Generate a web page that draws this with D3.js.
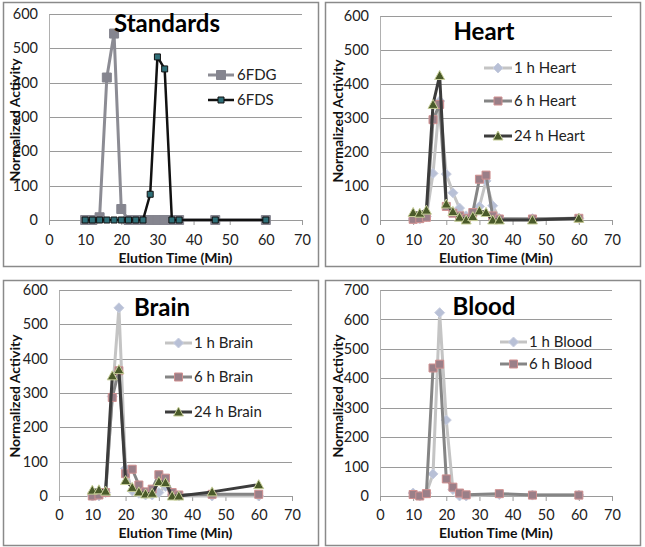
<!DOCTYPE html>
<html><head><meta charset="utf-8">
<script src="https://cdn.jsdelivr.net/npm/d3@7"></script>
<style>
body{margin:0;background:#fff;}
svg{display:block;font-family:Lato, "Open Sans", sans-serif;}
</style></head>
<body><svg id="c" width="645" height="547"></svg>
<script>
// ---------- DATA ----------
const xTicks = [0,10,20,30,40,50,60,70];
const stdTimes   = [10,12,14,16,18,20,22,24,26,28,30,32,34,36,46,60];
const fdg        = [0,0,8,415,543,32,0,0,0,0,0,0,0,0,0,0];
const fds        = [0,0,0,0,0,0,0,0,0,75,475,440,0,0,0,0];

const heartTimes = [10,12,14,16,18,20,22,24,26,28,30,32,34,36,46,60];
const heart1h    = [3,3,10,137,350,135,80,35,12,18,40,115,42,5,4,5];
const heart6h    = [2,4,8,295,340,40,20,12,5,22,120,132,12,3,3,5];
const heart24h   = [22,20,29,340,425,47,25,8,0,10,27,22,0,0,0,5];

const brainTimes = [10,12,14,16,18,20,22,24,26,28,30,32,34,36,46,60];
const brain1h    = [0,0,10,290,548,80,15,8,3,3,10,28,3,0,0,0];
const brain6h    = [0,3,10,287,365,65,78,32,12,20,62,52,10,3,5,5];
const brain24h   = [17,18,14,350,368,45,25,12,6,8,42,39,0,0,12,33];

const bloodTimes = [10,12,14,16,18,20,22,24,26,36,46,60];
const blood1h    = [10,0,10,75,623,258,22,0,0,5,3,3];
const blood6h    = [5,0,8,435,448,58,30,10,4,8,3,3];

const yTicksStd = [0,100,200,300,400,500,600];
const yTicksBlood = [0,100,200,300,400,500,600,700];

// ---------- STYLES ----------
const S = {
  fdg:  {line:"#8c8c94", w:3,   shape:"square", size:9, fill:"#85858f", stroke:"#85858f"},
  fds:  {line:"#111",    w:2.5, shape:"square", size:6, fill:"#2f6f78", stroke:"#111"},
  h1:   {line:"#c4c4c4", w:3,   shape:"diamond",size:10, fill:"#b8c0d6", stroke:"#c8cee0"},
  h6:   {line:"#858585", w:3,   shape:"square", size:8, fill:"#9a7f88", stroke:"#d09090"},
  h24:  {line:"#3c3c3c", w:3,   shape:"triangle",size:10, fill:"#4a5a2a", stroke:"#c8cf9a"}
};

const panels = [
  {title:"Standards", box:[3,2,318,266], x0:49, x70:302, y0:220, yTop:14, yTicks:yTicksStd,
   titlePos:[167,24], yTitleX:15, xLabY:245, xTitleY:258,
   series:[{name:"6FDG",t:stdTimes,v:fdg,s:S.fdg},{name:"6FDS",t:stdTimes,v:fds,s:S.fds}],
   legend:{x1:208,x2:234,tx:237,ys:[75,100]}},
  {title:"Heart", box:[325,2,640,266], x0:380, x70:612, y0:220, yTop:16, yTicks:yTicksStd,
   titlePos:[484,32], yTitleX:338, xLabY:245, xTitleY:258,
   series:[{name:"1 h Heart",t:heartTimes,v:heart1h,s:S.h1},{name:"6 h Heart",t:heartTimes,v:heart6h,s:S.h6},{name:"24 h Heart",t:heartTimes,v:heart24h,s:S.h24}],
   legend:{x1:484,x2:512,tx:514,ys:[68,101,136]}},
  {title:"Brain", box:[3,280,318,545], x0:59, x70:292, y0:496, yTop:290, yTicks:yTicksStd,
   titlePos:[162,308], yTitleX:15, xLabY:520, xTitleY:533,
   series:[{name:"1 h Brain",t:brainTimes,v:brain1h,s:S.h1},{name:"6 h Brain",t:brainTimes,v:brain6h,s:S.h6},{name:"24 h Brain",t:brainTimes,v:brain24h,s:S.h24}],
   legend:{x1:165,x2:192,tx:194,ys:[343,377,412]}},
  {title:"Blood", box:[325,280,640,545], x0:380, x70:612, y0:496, yTop:290, yTicks:yTicksBlood,
   titlePos:[484,307], yTitleX:338, xLabY:520, xTitleY:533,
   series:[{name:"1 h Blood",t:bloodTimes,v:blood1h,s:S.h1},{name:"6 h Blood",t:bloodTimes,v:blood6h,s:S.h6}],
   legend:{x1:500,x2:527,tx:529,ys:[342,364]}}
];

const svg = d3.select("#c");

function markerPath(shape,size){
  const h=size/2;
  if(shape==="square") return `M${-h},${-h}H${h}V${h}H${-h}Z`;
  if(shape==="diamond") return `M0,${-h}L${h},0L0,${h}L${-h},0Z`;
  return `M0,${-h}L${h},${h*0.8}L${-h},${h*0.8}Z`;
}

panels.forEach(p=>{
  const g = svg.append("g");
  const [bx1,by1,bx2,by2]=p.box;
  g.append("rect").attr("x",bx1+0.5).attr("y",by1+0.5).attr("width",bx2-bx1).attr("height",by2-by1)
    .attr("fill","#fff").attr("stroke","#8a8a8a").attr("stroke-width",1.5);

  const x = d3.scaleLinear().domain([0,70]).range([p.x0,p.x70]);
  const ymax = p.yTicks[p.yTicks.length-1];
  const y = d3.scaleLinear().domain([0,ymax]).range([p.y0,p.yTop]);

  // gridlines
  g.append("g").selectAll("line").data(p.yTicks.filter(d=>d>0)).join("line")
    .attr("x1",p.x0).attr("x2",p.x70).attr("y1",d=>Math.round(y(d))+0.5).attr("y2",d=>Math.round(y(d))+0.5)
    .attr("stroke","#9a9a9a").attr("stroke-width",1);

  // y axis
  const ya = g.append("g").attr("transform",`translate(${p.x0},0)`)
    .call(d3.axisLeft(y).tickValues(p.yTicks).tickSize(0).tickPadding(11));
  ya.select(".domain").attr("stroke","#b0b0b0");
  ya.selectAll("text").attr("font-size",14.5).attr("fill","#222").attr("font-family","Lato, sans-serif");

  // x axis
  const xa = g.append("g").attr("transform",`translate(0,${p.y0})`)
    .call(d3.axisBottom(x).tickValues(xTicks).tickSize(5).tickSizeOuter(0).tickPadding(14));
  xa.select(".domain").attr("stroke","#9a9a9a");
  xa.selectAll(".tick line").attr("stroke","#9a9a9a");
  xa.selectAll("text").attr("font-size",14.5).attr("fill","#222").attr("font-family","Lato, sans-serif").attr("dy","0.5em")
    .attr("y",p.xLabY-p.y0-7);

  // axis titles
  g.append("text").attr("x",(p.x0+p.x70)/2).attr("y",p.xTitleY).attr("dy","0.35em").attr("text-anchor","middle")
    .attr("font-weight","bold").attr("font-size",14).attr("fill","#111").text("Elution Time (Min)");
  g.append("text").attr("transform",`translate(${p.yTitleX},${(p.y0+p.yTop)/2+3}) rotate(-90)`).attr("dy","0.35em")
    .attr("text-anchor","middle").attr("font-weight","bold").attr("font-size",14).attr("fill","#111").text("Normalized Activity");

  // series
  const line = d3.line().x(d=>x(d[0])).y(d=>y(d[1]));
  p.series.forEach(sr=>{
    const pts = sr.t.map((t,i)=>[t,sr.v[i]]);
    const sg = g.append("g");
    sg.append("path").attr("d",line(pts)).attr("fill","none").attr("stroke",sr.s.line)
      .attr("stroke-width",sr.s.w).attr("stroke-linejoin","round");
    sg.selectAll("path.m").data(pts).join("path").attr("class","m")
      .attr("transform",d=>`translate(${x(d[0])},${y(d[1])})`)
      .attr("d",markerPath(sr.s.shape,sr.s.size)).attr("fill",sr.s.fill).attr("stroke",sr.s.stroke).attr("stroke-width",1);
  });

  // legend
  p.series.forEach((sr,i)=>{
    const ly=p.legend.ys[i];
    g.append("line").attr("x1",p.legend.x1).attr("x2",p.legend.x2).attr("y1",ly).attr("y2",ly)
      .attr("stroke",sr.s.line).attr("stroke-width",sr.s.w);
    g.append("path").attr("transform",`translate(${(p.legend.x1+p.legend.x2)/2},${ly})`)
      .attr("d",markerPath(sr.s.shape,sr.s.size)).attr("fill",sr.s.fill).attr("stroke",sr.s.stroke).attr("stroke-width",1);
    g.append("text").attr("x",p.legend.tx).attr("y",ly).attr("dy","0.35em").attr("font-size",15).attr("fill","#222")
      .text(sr.name);
  });

  // title
  g.append("text").attr("x",p.titlePos[0]).attr("y",p.titlePos[1]).attr("dy","0.35em").attr("text-anchor","middle")
    .attr("font-weight","bold").attr("font-size",24).attr("fill","#000").text(p.title);
});
</script>
</body></html>
